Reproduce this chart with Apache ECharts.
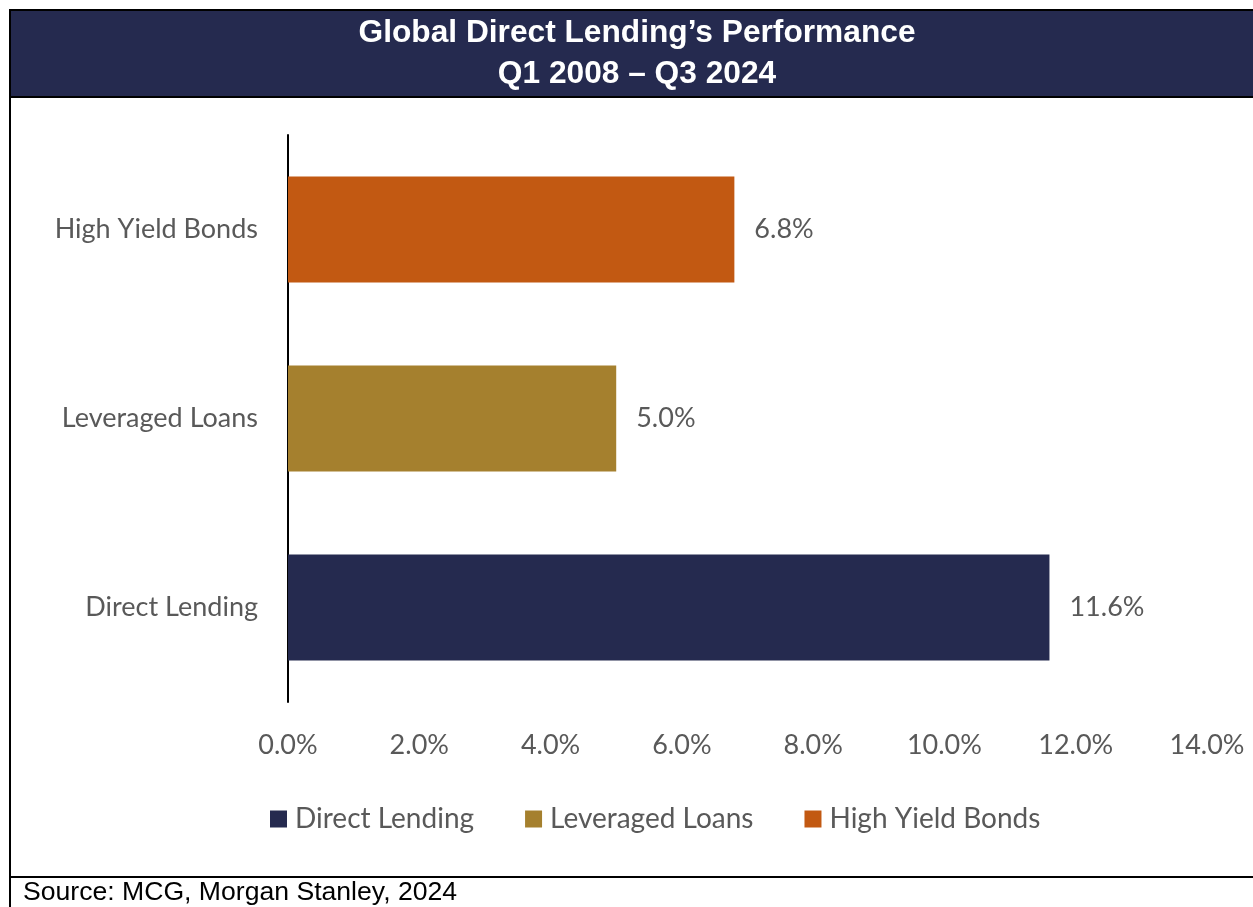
<!DOCTYPE html>
<html>
<head>
<meta charset="utf-8">
<script src="https://cdn.jsdelivr.net/npm/echarts@6/dist/echarts.min.js"></script>
<style>
  html, body { margin: 0; padding: 0; background: #ffffff; }
  #chart { width: 1253px; height: 907px; }
</style>
</head>
<body>
<div id="chart"></div>
<script>
// Annualised returns, Q1 2008 – Q3 2024 (%)
const categories = ['Direct Lending', 'Leveraged Loans', 'High Yield Bonds'];
const directLending = [11.6, null, null];
const leveragedLoans = [null, 5.0, null];
const highYieldBonds = [null, null, 6.8];
const xTicks = [0, 2, 4, 6, 8, 10, 12, 14];

const NAVY = '#252A4F';
const GOLD = '#A5802E';
const ORANGE = '#C25912';
const LABEL_GREY = '#595959';
const FONT = 'Lato, "Open Sans", sans-serif';
const FS = 27;

const chart = echarts.init(document.getElementById('chart'), null, { renderer: 'canvas' });

function barSeries(name, data, color) {
  return {
    name: name,
    type: 'bar',
    data: data,
    barWidth: 106,
    barGap: '-100%',
    itemStyle: { color: color },
    label: {
      show: true,
      position: 'right',
      distance: 20,
      color: LABEL_GREY,
      fontFamily: FONT,
      fontSize: FS,
      formatter: p => p.value == null ? '' : p.value.toFixed(1) + '%'
    }
  };
}

chart.setOption({
  animation: false,
  backgroundColor: '#ffffff',
  title: {
    text: 'Global Direct Lending’s Performance\nQ1 2008 – Q3 2024',
    left: 632,
    textAlign: 'center',
    top: 8,
    textStyle: {
      color: '#ffffff',
      fontFamily: 'Arial, "Liberation Sans", sans-serif',
      fontWeight: 'bold',
      fontSize: 31.7,
      lineHeight: 41
    }
  },
  graphic: [
    { type: 'rect', z: -1, shape: { x: 10, y: 10, width: 1250, height: 87 }, style: { fill: NAVY } },
    { type: 'line', shape: { x1: 9, y1: 10, x2: 1253, y2: 10 }, style: { stroke: '#000', lineWidth: 2 } },
    { type: 'line', shape: { x1: 9, y1: 97, x2: 1253, y2: 97 }, style: { stroke: '#000', lineWidth: 2 } },
    { type: 'line', shape: { x1: 10, y1: 9, x2: 10, y2: 907 }, style: { stroke: '#000', lineWidth: 2 } },
    { type: 'line', shape: { x1: 9, y1: 877, x2: 1253, y2: 877 }, style: { stroke: '#000', lineWidth: 2 } },
    {
      type: 'text', left: 23, top: 879,
      style: { text: 'Source: MCG, Morgan Stanley, 2024', fill: '#000', font: '26.6px Arial, "Liberation Sans", sans-serif' }
    }
  ],
  legend: {
    data: categories,
    top: 800,
    left: 265,
    icon: 'rect',
    itemWidth: 17,
    itemHeight: 17,
    itemGap: 51,
    textStyle: { color: LABEL_GREY, fontFamily: FONT, fontSize: 28, padding: [0, 0, 0, 3] }
  },
  grid: { left: 288, right: 46, top: 135, bottom: 205, containLabel: false },
  xAxis: {
    type: 'value',
    min: xTicks[0],
    max: xTicks[xTicks.length - 1],
    interval: 2,
    axisLine: { show: false },
    axisTick: { show: false },
    splitLine: { show: false },
    axisLabel: {
      margin: 30,
      color: LABEL_GREY,
      fontFamily: FONT,
      fontSize: FS,
      formatter: v => v.toFixed(1) + '%'
    }
  },
  yAxis: {
    type: 'category',
    data: categories,
    axisLine: { show: true, lineStyle: { color: '#000', width: 2 } },
    axisTick: { show: false },
    axisLabel: { margin: 30, color: LABEL_GREY, fontFamily: FONT, fontSize: FS }
  },
  series: [
    barSeries('Direct Lending', directLending, NAVY),
    barSeries('Leveraged Loans', leveragedLoans, GOLD),
    barSeries('High Yield Bonds', highYieldBonds, ORANGE)
  ]
});
</script>
</body>
</html>
